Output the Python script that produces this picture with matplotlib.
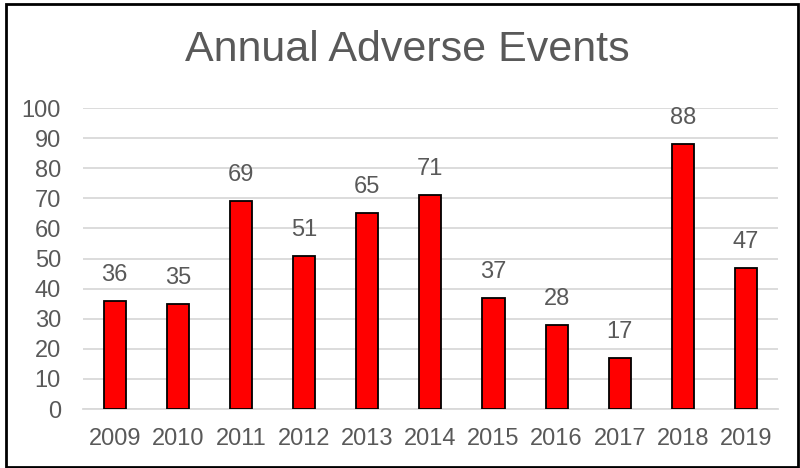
import numpy as np
import matplotlib.pyplot as plt
from matplotlib.patches import Rectangle

plt.rcParams['font.family'] = ['Liberation Sans', 'DejaVu Sans']

years = ['2009', '2010', '2011', '2012', '2013', '2014', '2015', '2016', '2017', '2018', '2019']
events = [36, 35, 69, 51, 65, 71, 37, 28, 17, 88, 47]

txt = '#595959'

fig = plt.figure(figsize=(8, 4.68), dpi=100)
ax = fig.add_axes([0.104, 0.126, 0.868, 0.643])

x = np.arange(len(years))
ax.bar(x, events, width=0.35, color='#ff0000', edgecolor='black', linewidth=1.3, zorder=3)
for xi, v in zip(x, events):
    ax.text(xi, v + 5, str(v), ha='center', va='bottom', fontsize=17, color=txt)

ax.set_xlim(-0.5, len(years) - 0.5)
ax.set_ylim(0, 100)
ax.set_yticks(np.arange(0, 101, 10))
ax.set_xticks(x)
ax.set_xticklabels(years)
ax.tick_params(axis='both', length=0, labelsize=17, labelcolor=txt)
ax.tick_params(axis='y', pad=16)
ax.tick_params(axis='x', pad=14)
ax.yaxis.grid(True, color='#d9d9d9', linewidth=1.3, zorder=0)
for s in ['top', 'right', 'left']:
    ax.spines[s].set_visible(False)
ax.spines['bottom'].set_color('#d9d9d9')
ax.spines['bottom'].set_linewidth(1.3)

fig.text(0.509, 0.893, 'Annual Adverse Events', ha='center', va='center', fontsize=31, color=txt)

fig.patches.append(Rectangle((0.0075, 0.003), 0.99, 0.989, transform=fig.transFigure,
                             fill=False, edgecolor='black', linewidth=2))

fig.savefig('out.png', dpi=100)
